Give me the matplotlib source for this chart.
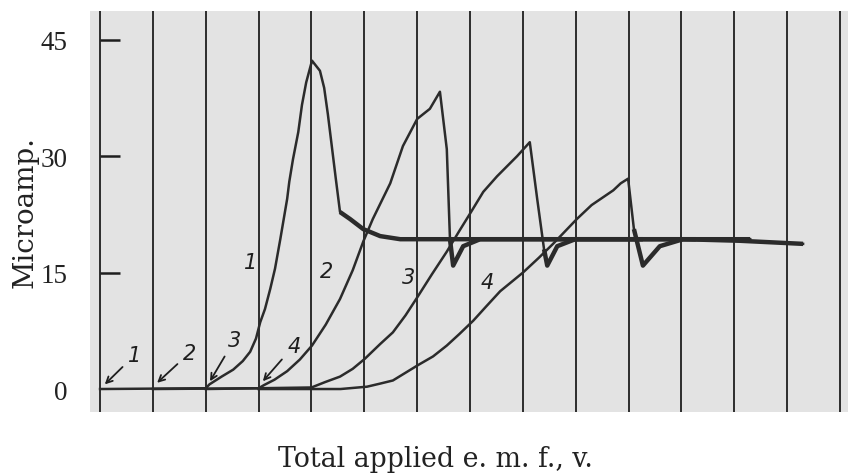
import matplotlib
matplotlib.use("Agg")
import matplotlib.pyplot as plt
import numpy as np

# ---- data (x in grid divisions, y in microamp.) ----
grid_x = list(range(15))
y_ticks = [0, 15, 30, 45]
y_tick_labels = ["0", "15", "30", "45"]

c1_x = [0.0, 2.0, 2.07, 2.30, 2.52, 2.70, 2.84, 2.95, 3.03, 3.12, 3.22, 3.31, 3.41, 3.54, 3.58, 3.65, 3.75, 3.82,
        3.90, 4.01, 4.16, 4.24, 4.31, 4.46, 4.54, 4.73, 4.98, 5.30, 5.68, 10.27]
c1_y = [0.0, 0.1, 0.6, 1.6, 2.5, 3.6, 4.8, 6.5, 8.6, 10.3, 12.9, 15.5, 19.3, 24.5, 26.7, 29.6, 33.1, 36.6,
        39.5, 42.3, 41.0, 38.8, 35.4, 27.1, 22.8, 21.9, 20.6, 19.7, 19.3, 19.3]

c2_x = [1.0, 3.0, 3.10, 3.30, 3.54, 3.78, 4.01, 4.27, 4.54, 4.78, 4.98, 5.16, 5.49, 5.73, 6.00, 6.24, 6.43,
        6.56, 6.62, 6.68, 6.87, 7.19, 11.27]
c2_y = [0.0, 0.1, 0.5, 1.2, 2.3, 3.8, 5.6, 8.3, 11.6, 15.3, 19.0, 21.9, 26.5, 31.3, 34.8, 36.1, 38.3,
        30.9, 19.3, 15.9, 18.4, 19.3, 19.3]

c3_x = [2.0, 4.0, 4.26, 4.54, 4.78, 5.01, 5.30, 5.54, 5.78, 6.00, 6.28, 6.56, 6.80, 7.00, 7.25, 7.51, 7.70,
        7.89, 8.13, 8.27, 8.40, 8.46, 8.65, 8.99, 12.30]
c3_y = [0.0, 0.2, 0.9, 1.6, 2.6, 3.9, 5.8, 7.3, 9.5, 11.8, 14.8, 17.7, 20.4, 22.6, 25.4, 27.4, 28.7,
        30.0, 31.8, 24.5, 18.0, 15.9, 18.4, 19.3, 19.3]

c4_x = [3.0, 4.55, 5.05, 5.30, 5.54, 6.02, 6.30, 6.56, 6.80, 7.06, 7.30, 7.57, 8.00, 8.30, 8.57, 9.02,
        9.30, 9.71, 9.85, 9.99, 10.10, 10.27, 10.59, 11.03, 12.10, 13.30]
c4_y = [0.0, 0.0, 0.3, 0.7, 1.1, 3.1, 4.2, 5.6, 7.1, 8.8, 10.6, 12.6, 15.0, 16.9, 18.7, 21.9,
        23.7, 25.6, 26.5, 27.1, 20.6, 15.9, 18.4, 19.3, 19.1, 18.7]

curve_labels = ["1", "2", "3", "4"]
curve_label_pos = [(2.84, 16.4), (4.29, 15.2), (5.83, 14.4), (7.32, 13.8)]
arrow_text_pos = [(0.66, 4.4), (1.70, 4.7), (2.54, 6.3), (3.67, 5.6)]
arrow_tip_pos = [(0.09, 0.6), (1.08, 0.8), (2.08, 1.0), (3.08, 1.0)]

# ---- figure ----
W, H = 851, 477
fig = plt.figure(figsize=(W / 100, H / 100), dpi=100)
fig.patch.set_facecolor("white")
ax = fig.add_axes([90 / W, 1 - 413 / H, (848 - 90) / W, (413 - 12) / H])
ax.set_facecolor("#e3e3e3")

ax.set_xlim(-0.19, 14.15)
ax.set_ylim(-2.96, 48.7)

for s in ax.spines.values():
    s.set_visible(False)

ax.set_xticks(grid_x)
ax.set_xticklabels([])
ax.tick_params(axis="x", length=0)
ax.grid(axis="x", color="#1e1e1e", linewidth=1.3)
ax.set_axisbelow(True)

serif = ["Liberation Serif", "DejaVu Serif"]
ax.set_yticks(y_ticks)
ax.set_yticklabels(y_tick_labels, fontfamily=serif, fontsize=19.5, color="#222222")
ax.tick_params(axis="y", length=0, pad=16)

# short tick dashes drawn from the grid line 0
ax.hlines(y_ticks[1:], 0, 0.38, color="#1e1e1e", linewidth=1.8, zorder=3)

col = "#2b2b2b"
for xs, ys in [(c1_x, c1_y), (c2_x, c2_y), (c3_x, c3_y), (c4_x, c4_y)]:
    ax.plot(xs, ys, color=col, linewidth=1.8, zorder=4, solid_joinstyle="round")
    # the limiting-current part after the maximum is a heavier, saw-toothed trace
    k = int(np.argmax(ys))
    j = next(i for i in range(k, len(ys)) if ys[i] < 23)
    ax.plot(xs[j:], ys[j:], color=col, linewidth=3.2, zorder=4,
            solid_joinstyle="round", solid_capstyle="butt")

hand = dict(fontfamily="DejaVu Sans", fontstyle="italic", fontsize=15, color="#1e1e1e")
for lab, (tx, ty) in zip(curve_labels, curve_label_pos):
    ax.text(tx, ty, lab, ha="center", va="center", zorder=5, **hand)

for lab, (tx, ty), (px, py) in zip(curve_labels, arrow_text_pos, arrow_tip_pos):
    ax.annotate(lab, xy=(px, py), xytext=(tx, ty), ha="center", va="center", zorder=5,
                arrowprops=dict(arrowstyle="->", color="#1e1e1e", lw=1.3,
                                shrinkA=3, shrinkB=0, mutation_scale=11),
                **hand)

fig.text(25 / W, 1 - 212 / H, "Microamp.", rotation=90, ha="center", va="center",
         fontfamily=["DejaVu Serif"], fontsize=20, color="#222222")
fig.text(435 / W, 1 - 460 / H, "Total applied e. m. f., v.", ha="center", va="center",
         fontfamily=["DejaVu Serif"], fontsize=19.3, color="#222222")

fig.savefig("out.png", dpi=100)
